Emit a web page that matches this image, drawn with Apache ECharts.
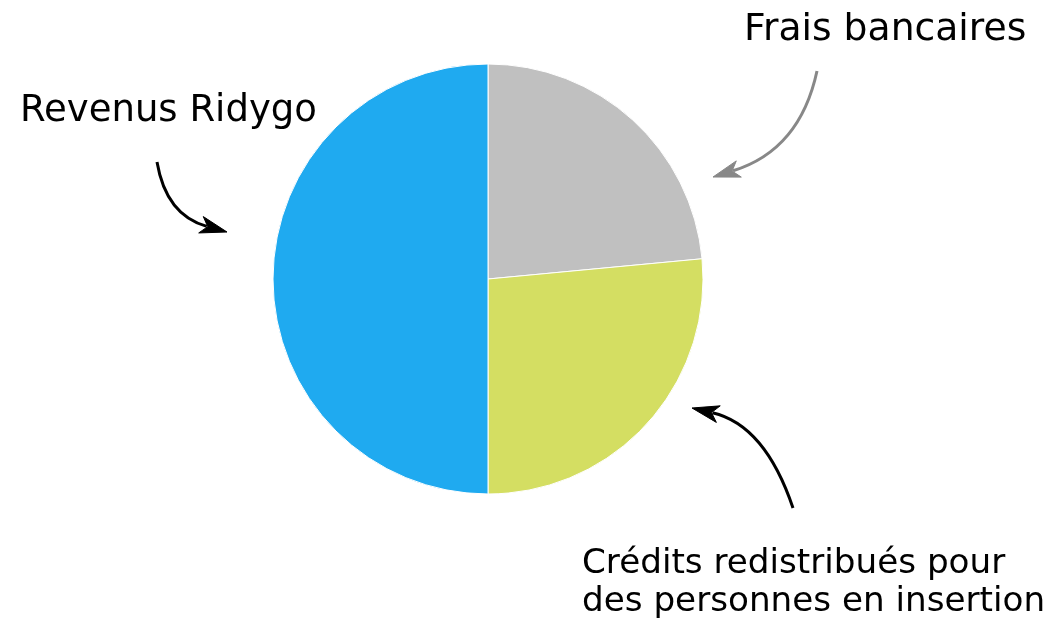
<!DOCTYPE html>
<html>
<head>
<meta charset="utf-8">
<script src="https://cdn.jsdelivr.net/npm/echarts@6/dist/echarts.min.js"></script>
<style>
html,body{margin:0;padding:0;background:#fff;}
#main{width:1054px;height:624px;}
</style>
</head>
<body>
<div id="main"></div>
<script>
var categories = ['Frais bancaires', 'Crédits redistribués pour\ndes personnes en insertion', 'Revenus Ridygo'];
var values = [23.5, 26.5, 50];
var colors = ['#c0c0c0', '#d4de62', '#1faaf0'];

var chart = echarts.init(document.getElementById('main'), null, {renderer: 'canvas'});

function arrow(p0, c, p2, color) {
  var dx = p2[0] - c[0], dy = p2[1] - c[1];
  var len = Math.sqrt(dx * dx + dy * dy);
  var ux = dx / len, uy = dy / len;
  var hl = 27, hw = 8.5;
  var bx = p2[0] - ux * hl, by = p2[1] - uy * hl;
  var nx = -uy, ny = ux;
  return [
    {type: 'bezierCurve', shape: {x1: p0[0], y1: p0[1], cpx1: c[0], cpy1: c[1], x2: bx + ux * 6, y2: by + uy * 6},
     style: {stroke: color, lineWidth: 3, fill: null}},
    {type: 'polygon', shape: {points: [[p2[0], p2[1]], [bx + nx * hw, by + ny * hw], [bx + ux * 7, by + uy * 7], [bx - nx * hw, by - ny * hw]]},
     style: {fill: color, stroke: color, lineWidth: 1}}
  ];
}

var graphics = [
  {type: 'text', style: {text: categories[0], x: 744, y: 30, font: '37.7px "DejaVu Sans"', fill: '#000', textAlign: 'left', textVerticalAlign: 'middle'}},
  {type: 'text', style: {text: categories[2], x: 20, y: 111, font: '37px "DejaVu Sans"', fill: '#000', textAlign: 'left', textVerticalAlign: 'middle'}},
  {type: 'text', style: {text: categories[1], x: 582, y: 583, font: '34.2px "DejaVu Sans"', lineHeight: 38, fill: '#000', textAlign: 'left', textVerticalAlign: 'middle'}}
].concat(arrow([817, 71], [800, 150], [713, 177], '#888888'))
 .concat(arrow([157, 162], [166, 215], [227, 232], '#000000'))
 .concat(arrow([793, 508], [765, 425], [692, 408], '#000000'));

chart.setOption({
  animation: false,
  backgroundColor: '#ffffff',
  graphic: graphics,
  series: [{
    type: 'pie',
    center: [488, 279],
    radius: 215,
    startAngle: 90,
    clockwise: true,
    label: {show: false},
    labelLine: {show: false},
    emphasis: {disabled: true},
    itemStyle: {borderColor: '#ffffff', borderWidth: 1},
    data: categories.map(function (n, i) {
      return {name: n, value: values[i], itemStyle: {color: colors[i]}};
    })
  }]
});
</script>
</body>
</html>
